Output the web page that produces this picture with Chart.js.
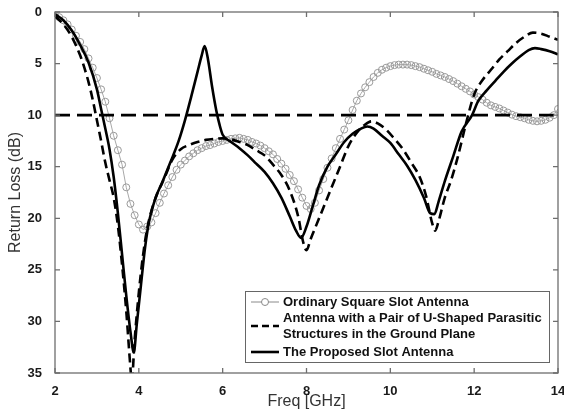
<!DOCTYPE html>
<html><head><meta charset="utf-8">
<script src="https://cdn.jsdelivr.net/npm/chart.js@4.4.1/dist/chart.umd.min.js"></script>
<style>html,body{margin:0;padding:0;background:#fff;overflow:hidden}#wrap{width:564px;height:413px;position:relative}</style>
</head><body><div id="wrap"><canvas id="c" width="564" height="413"></canvas></div>
<script>
// ---- data ----
const freqOrdinary = [2.0,2.1,2.2,2.3,2.4,2.5,2.6,2.7,2.8,2.9,3.0,3.1,3.2,3.3,3.4,3.5,3.6,3.7,3.8,3.9,4.0,4.1,4.2,4.3,4.4,4.5,4.6,4.7,4.8,4.9,5.0,5.1,5.2,5.3,5.4,5.5,5.6,5.7,5.8,5.9,6.0,6.1,6.2,6.3,6.4,6.5,6.6,6.7,6.8,6.9,7.0,7.1,7.2,7.3,7.4,7.5,7.6,7.7,7.8,7.9,8.0,8.1,8.2,8.3,8.4,8.5,8.6,8.7,8.8,8.9,9.0,9.1,9.2,9.3,9.4,9.5,9.6,9.7,9.8,9.9,10.0,10.1,10.2,10.3,10.4,10.5,10.6,10.7,10.8,10.9,11.0,11.1,11.2,11.3,11.4,11.5,11.6,11.7,11.8,11.9,12.0,12.1,12.2,12.3,12.4,12.5,12.6,12.7,12.8,12.9,13.0,13.1,13.2,13.3,13.4,13.5,13.6,13.7,13.8,13.9,14.0];
const rlOrdinary = [0.3,0.5,0.8,1.2,1.7,2.3,2.9,3.6,4.5,5.4,6.4,7.5,8.7,10.3,12.0,13.4,14.8,17.0,18.6,19.7,20.6,21.1,20.8,20.4,19.5,18.5,17.6,16.8,16.0,15.3,14.8,14.4,14.0,13.7,13.4,13.2,13.0,12.9,12.75,12.6,12.5,12.4,12.3,12.25,12.2,12.3,12.4,12.6,12.75,12.95,13.2,13.5,13.8,14.25,14.7,15.2,15.8,16.4,17.2,18.0,18.8,19.1,18.5,17.3,16.2,15.1,14.2,13.2,12.3,11.4,10.5,9.5,8.6,7.9,7.3,6.8,6.3,5.9,5.6,5.4,5.25,5.15,5.1,5.1,5.1,5.15,5.25,5.35,5.5,5.65,5.8,6.0,6.15,6.3,6.5,6.7,6.95,7.2,7.45,7.7,8.0,8.25,8.5,8.8,9.05,9.2,9.35,9.55,9.75,9.95,10.1,10.2,10.3,10.45,10.55,10.6,10.55,10.45,10.25,10.0,9.4];

const freqUShaped = [2.0,2.2,2.4,2.6,2.7,2.8,2.9,3.0,3.1,3.2,3.3,3.4,3.5,3.6,3.7,3.8,3.83,3.9,4.0,4.1,4.2,4.3,4.45,4.6,4.8,5.0,5.2,5.4,5.6,5.8,6.0,6.2,6.4,6.6,6.8,7.0,7.2,7.4,7.6,7.8,7.92,8.0,8.1,8.2,8.4,8.6,8.8,9.0,9.2,9.4,9.55,9.7,9.9,10.1,10.3,10.5,10.7,10.85,11.0,11.07,11.15,11.3,11.45,11.6,11.8,12.0,12.2,12.4,12.6,12.8,13.0,13.2,13.4,13.6,13.8,14.0];
const rlUShaped = [0.4,1.2,2.4,4.2,5.4,6.8,8.5,10.5,12.5,14.6,16.3,18.0,20.7,24.5,29.0,34.5,35.8,31.8,27.2,23.6,21.0,19.3,17.5,16.2,14.3,13.3,12.9,12.6,12.4,12.3,12.25,12.35,12.6,12.9,13.4,13.9,14.8,15.8,17.3,19.8,22.3,23.1,22.0,21.0,19.0,17.0,15.0,13.0,11.7,10.9,10.6,10.8,11.4,12.3,13.3,14.6,16.0,17.8,20.5,21.2,20.3,18.0,16.3,14.2,10.9,8.0,6.6,5.6,4.6,3.8,3.0,2.4,2.0,2.1,2.4,2.7];

const freqProposed = [2.0,2.2,2.4,2.6,2.8,3.0,3.1,3.2,3.3,3.4,3.5,3.6,3.7,3.8,3.88,3.95,4.05,4.15,4.25,4.4,4.55,4.75,4.95,5.1,5.25,5.4,5.5,5.57,5.65,5.75,5.85,5.93,6.0,6.2,6.4,6.6,6.8,7.0,7.2,7.4,7.6,7.75,7.87,8.0,8.15,8.3,8.5,8.7,8.9,9.1,9.3,9.45,9.6,9.8,10.0,10.2,10.4,10.6,10.8,10.95,11.05,11.15,11.3,11.5,11.7,11.95,12.1,12.3,12.5,12.7,12.9,13.1,13.3,13.45,13.6,13.8,14.0];
const rlProposed = [0.2,0.8,1.8,3.2,4.9,7.5,9.4,11.3,13.3,16.0,19.5,23.5,27.5,31.0,33.0,30.3,26.5,22.8,20.2,18.0,16.6,14.6,12.5,10.5,8.2,5.8,4.2,3.3,4.6,7.3,9.6,11.0,11.9,12.6,13.2,13.9,14.7,15.5,16.6,18.0,19.8,21.2,21.9,20.8,18.8,16.8,15.0,13.8,12.6,11.8,11.3,11.1,11.3,12.0,12.7,13.8,14.9,16.3,18.0,19.5,19.6,18.4,16.4,14.0,11.6,10.0,8.6,7.6,6.7,5.8,5.0,4.3,3.7,3.5,3.6,3.8,4.1];

const refLevel = 10;
const freqRange = [2, 14];
const xTickValues = [2,4,6,8,10,12,14];
const yTickValues = [0,5,10,15,20,25,30,35];
const seriesNames = ['Ordinary Square Slot Antenna', 'Antenna with a Pair of U-Shaped Parasitic Structures in the Ground Plane', 'The Proposed Slot Antenna'];
const legendLines = [['Ordinary Square Slot Antenna'], ['Antenna with a Pair of U-Shaped Parasitic', 'Structures in the Ground Plane'], ['The Proposed Slot Antenna']];
const xTitle = 'Freq [GHz]';
const yTitle = 'Return Loss (dB)';

const toXY = (xs, ys) => xs.map((x, i) => ({x: x, y: ys[i]}));
const FONT = 'Arial, "Liberation Sans", Helvetica, sans-serif';

const framePlugin = {
  id: 'frame',
  afterDatasetsDraw(chart) {
    const {ctx, chartArea: a, scales} = chart;
    ctx.save();
    ctx.strokeStyle = '#6e6e6e';
    ctx.lineWidth = 1.3;
    ctx.strokeRect(a.left, a.top, a.right - a.left, a.bottom - a.top);
    const tl = 5;
    ctx.beginPath();
    xTickValues.forEach(v => {
      const px = scales.x.getPixelForValue(v);
      ctx.moveTo(px, a.bottom); ctx.lineTo(px, a.bottom - tl);
      ctx.moveTo(px, a.top); ctx.lineTo(px, a.top + tl);
    });
    yTickValues.forEach(v => {
      const py = scales.y.getPixelForValue(v);
      ctx.moveTo(a.left, py); ctx.lineTo(a.left + tl, py);
      ctx.moveTo(a.right, py); ctx.lineTo(a.right - tl, py);
    });
    ctx.stroke();
    ctx.restore();
  }
};

const legendPlugin = {
  id: 'boxLegend',
  afterDraw(chart) {
    const {ctx, chartArea: a} = chart;
    const w = 304, h = 71;
    const x0 = a.right - 9 - w, y0 = a.bottom - 11 - h;
    ctx.save();
    ctx.fillStyle = '#fff';
    ctx.fillRect(x0, y0, w, h);
    ctx.strokeStyle = '#666';
    ctx.lineWidth = 1;
    ctx.strokeRect(x0 + 0.5, y0 + 0.5, w, h);
    const sx0 = x0 + 6, sx1 = x0 + 34, tx = x0 + 38;
    ctx.font = 'bold 13px ' + FONT;
    ctx.fillStyle = '#111';
    ctx.textBaseline = 'middle';
    ctx.textAlign = 'left';
    // entry 1
    let y = y0 + 11;
    ctx.strokeStyle = '#8a8a8a'; ctx.lineWidth = 1;
    ctx.beginPath(); ctx.moveTo(sx0, y); ctx.lineTo(sx1, y); ctx.stroke();
    ctx.beginPath(); ctx.arc((sx0 + sx1) / 2, y, 3.5, 0, Math.PI * 2); ctx.fillStyle = '#fff'; ctx.fill(); ctx.stroke();
    ctx.fillStyle = '#111';
    ctx.fillText(legendLines[0][0], tx, y);
    // entry 2
    y = y0 + 35;
    ctx.strokeStyle = '#000'; ctx.lineWidth = 2.6; ctx.setLineDash([7, 4]);
    ctx.beginPath(); ctx.moveTo(sx0, y); ctx.lineTo(sx1, y); ctx.stroke();
    ctx.setLineDash([]);
    ctx.fillText(legendLines[1][0], tx, y - 7.5);
    ctx.fillText(legendLines[1][1], tx, y + 8);
    // entry 3
    y = y0 + 61;
    ctx.strokeStyle = '#000'; ctx.lineWidth = 2.6;
    ctx.beginPath(); ctx.moveTo(sx0, y); ctx.lineTo(sx1, y); ctx.stroke();
    ctx.fillText(legendLines[2][0], tx, y);
    ctx.restore();
  }
};

new Chart(document.getElementById('c'), {
  type: 'line',
  data: {
    datasets: [
      {
        label: seriesNames[2], data: toXY(freqProposed, rlProposed), order: 0,
        borderColor: '#000', borderWidth: 2.6, pointRadius: 0, cubicInterpolationMode: 'monotone', fill: false
      },
      {
        label: seriesNames[1], data: toXY(freqUShaped, rlUShaped), order: 1,
        borderColor: '#000', borderWidth: 2.6, borderDash: [9, 5], pointRadius: 0, cubicInterpolationMode: 'monotone', fill: false
      },
      {
        label: 'ref', data: toXY(freqRange, [refLevel, refLevel]), order: 2,
        borderColor: '#000', borderWidth: 2.8, borderDash: [15, 7], pointRadius: 0, fill: false
      },
      {
        label: seriesNames[0], data: toXY(freqOrdinary, rlOrdinary), order: 3,
        borderColor: '#a8a8a8', borderWidth: 1, pointRadius: 3.5, pointBorderWidth: 1,
        pointBorderColor: '#999', pointBackgroundColor: 'rgba(255,255,255,0)', tension: 0, fill: false
      }
    ]
  },
  options: {
    responsive: false, animation: false, devicePixelRatio: 1,
    layout: {padding: {left: 0, right: 6, top: 12, bottom: 0}},
    plugins: {legend: {display: false}, tooltip: {enabled: false}},
    scales: {
      x: {
        type: 'linear', min: 2, max: 14,
        grid: {display: false}, border: {display: false},
        afterBuildTicks: s => { s.ticks = xTickValues.map(v => ({value: v})); },
        afterFit: s => { s.height = 40; s.paddingLeft = 0; s.paddingRight = 0; },
        ticks: {color: '#1a1a1a', font: {family: FONT, size: 13, weight: 'bold'}, padding: 3, maxRotation: 0},
        title: {display: true, text: xTitle, color: '#333', font: {family: FONT, size: 16}, padding: {top: 0, bottom: 2}}
      },
      y: {
        type: 'linear', min: 0, max: 35, reverse: true,
        grid: {display: false}, border: {display: false},
        afterBuildTicks: s => { s.ticks = yTickValues.map(v => ({value: v})); },
        afterFit: s => { s.width = 55; s.paddingTop = 0; s.paddingBottom = 0; },
        ticks: {color: '#1a1a1a', font: {family: FONT, size: 13, weight: 'bold'}, padding: 5},
        title: {display: true, text: yTitle, color: '#333', font: {family: FONT, size: 16}, padding: {top: 6, bottom: 0}}
      }
    }
  },
  plugins: [framePlugin, legendPlugin]
});
</script>
</body></html>
